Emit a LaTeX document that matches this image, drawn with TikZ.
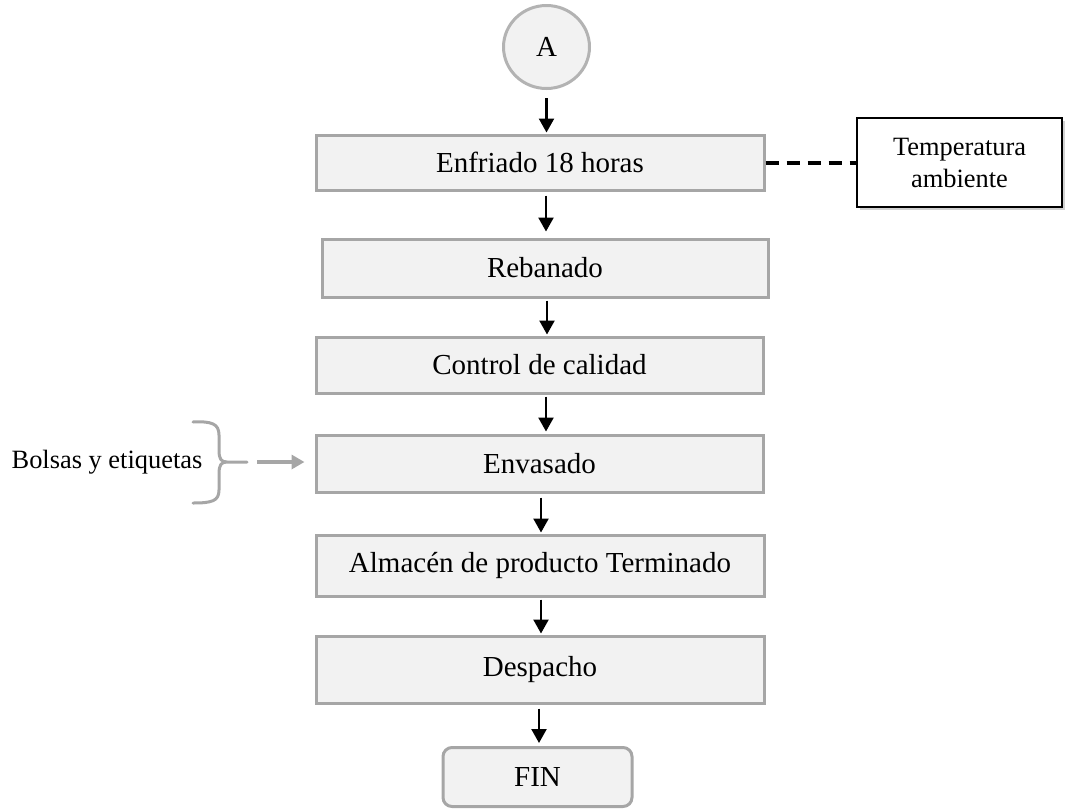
\documentclass[tikz,border=0pt]{standalone}
\usepackage{fontspec}
\setmainfont{Liberation Serif}
\usetikzlibrary{arrows.meta,shadows,shapes.geometric}
\definecolor{boxfill}{HTML}{F2F2F2}
\definecolor{boxdraw}{HTML}{A6A6A6}
\definecolor{circdraw}{HTML}{B3B3B3}
\begin{document}
\begin{tikzpicture}[x=1pt,y=-1pt,
  stepbox/.style={draw=boxdraw,fill=boxfill,line width=3pt,
    font=\fontsize{29}{34}\selectfont,inner sep=0pt,minimum width=448pt},
  arr/.style={-{Triangle[width=15pt,length=14pt]},line width=2.3pt,black},
  garr/.style={-{Triangle[width=14pt,length=13pt]},line width=3.5pt,boxdraw},
  note/.style={draw=black,fill=white,line width=2pt,align=center,
    font=\fontsize{26.4}{32}\selectfont,inner sep=0pt,
    drop shadow={shadow xshift=3pt,shadow yshift=-3pt,opacity=0.3,fill=black!60}},
  brace/.style={draw=boxdraw,line width=3pt,line cap=round,line join=round}
]
\useasboundingbox (0,0) rectangle (1068,809);

\node[ellipse,draw=circdraw,fill=boxfill,line width=3pt,minimum width=86pt,
  minimum height=83pt,inner sep=0pt,font=\fontsize{29}{34}\selectfont] (A) at (546.5,47) {A};

\node[stepbox,minimum height=55pt] (enf) at (540,162.5) {Enfriado 18 horas};
\node[stepbox,minimum height=58pt,minimum width=446pt] (reb) at (545,268) {Rebanado};
\node[stepbox,minimum height=56pt,minimum width=447pt] (ctl) at (539.5,365) {Control de calidad};
\node[stepbox,minimum height=57pt,minimum width=447pt] (env) at (539.5,463.5) {Envasado};
\node[stepbox,minimum height=61pt] (alm) at (540,565.5) {Almacén de producto Terminado};
\node[stepbox,minimum height=67pt] (des) at (540,669.5) {Despacho};
\node[stepbox,minimum height=59pt,minimum width=189pt,rounded corners=9pt] (fin) at (537.5,777) {FIN};

\node[note,minimum width=205pt,minimum height=89pt] (temp) at (959.5,162.5) {Temperatura\\ambiente};

\draw[arr] ([yshift=-8pt]A.south) -- ([yshift=1pt]enf.north -| A.south);
\draw[arr] ([xshift=6pt,yshift=-4pt]enf.south) -- ([xshift=1pt,yshift=6pt]reb.north);
\draw[arr] ([xshift=2pt,yshift=-2pt]reb.south) -- ([xshift=7.5pt,yshift=1pt]ctl.north);
\draw[arr] ([xshift=6.5pt,yshift=-2pt]ctl.south) -- ([xshift=6.5pt,yshift=2pt]env.north);
\draw[arr] ([xshift=1.5pt,yshift=-4pt]env.south) -- ([xshift=1pt,yshift=1pt]alm.north);
\draw[arr] ([xshift=1pt,yshift=-2pt]alm.south) -- ([xshift=1pt,yshift=1pt]des.north);
\draw[arr] ([xshift=-1pt,yshift=-4pt]des.south) -- ([xshift=1.5pt,yshift=3pt]fin.north);

\draw[line width=4pt,dash pattern=on 13pt off 8pt] (enf.east) -- (temp.west);

\node[font=\fontsize{26.4}{32}\selectfont,inner sep=0pt] (bolsas) at (107,462) {Bolsas y etiquetas};
\draw[brace] (193,422) .. controls (212,421) and (219,424) .. (219,435) -- (219,450)
  .. controls (219,459) and (221,462) .. (227,462) -- (247,462)
  (227,462) .. controls (221,462) and (219,465) .. (219,474) -- (219,490)
  .. controls (219,501) and (212,503) .. (193,503);
\coordinate (brc) at (257,462);
\draw[garr,shorten >=10pt] (brc) -- (brc -| env.west);
\end{tikzpicture}
\end{document}
